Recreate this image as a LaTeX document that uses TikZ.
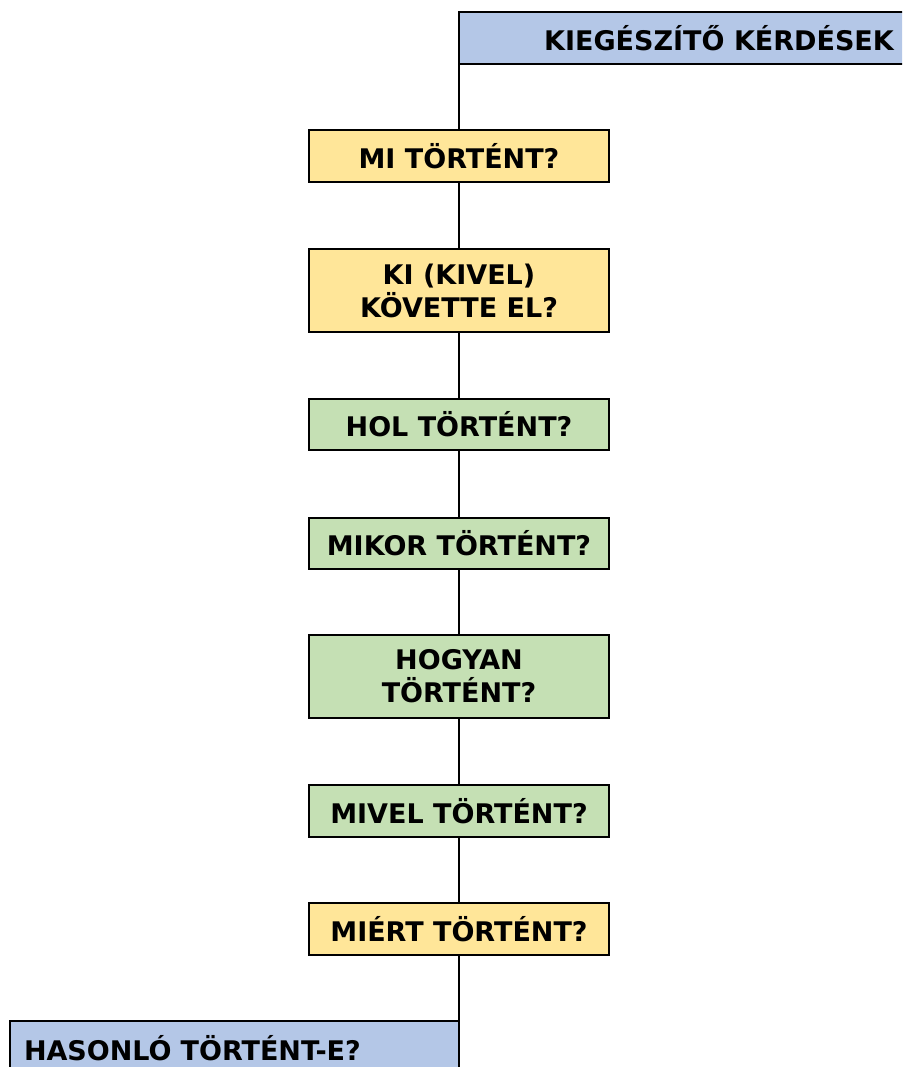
\documentclass[tikz,border=0pt]{standalone}
\usepackage{fontspec}
\setmainfont{DejaVu Sans}
\definecolor{hdrblue}{HTML}{B4C7E7}
\definecolor{qyellow}{HTML}{FFE699}
\definecolor{qgreen}{HTML}{C5E0B4}
\tikzset{
  qbox/.style={draw=black, line width=2.6pt, minimum width=300pt, minimum height=52pt,
    inner sep=0pt, outer sep=0pt, align=center, font=\fontsize{27}{33}\selectfont\bfseries},
  hdrbox/.style={draw=black, line width=2.6pt, fill=hdrblue, inner sep=0pt, outer sep=0pt,
    font=\fontsize{27}{33}\selectfont\bfseries},
  conn/.style={draw=black, line width=2.6pt}
}
\begin{document}
\begin{tikzpicture}[x=1pt,y=-1pt]
\useasboundingbox (0,0) rectangle (902,1067);
\clip (0,0) rectangle (902,1067);
\node[hdrbox, minimum width=520pt, minimum height=52pt] (top) at (719,38) {KIEGÉSZÍTŐ KÉRDÉSEK};
\node[qbox, fill=qyellow] (mi) at (459,156) {MI TÖRTÉNT?};
\node[qbox, fill=qyellow, minimum height=83pt] (ki) at (459,290.5) {KI (KIVEL)\\KÖVETTE EL?};
\node[qbox, fill=qgreen, minimum height=51pt] (hol) at (459,424.5) {HOL TÖRTÉNT?};
\node[qbox, fill=qgreen, minimum height=51pt] (mikor) at (459,543.5) {MIKOR TÖRTÉNT?};
\node[qbox, fill=qgreen, minimum height=83pt] (hogyan) at (459,676.5) {HOGYAN\\TÖRTÉNT?};
\node[qbox, fill=qgreen] (mivel) at (459,811) {MIVEL TÖRTÉNT?};
\node[qbox, fill=qyellow] (miert) at (459,929) {MIÉRT TÖRTÉNT?};
\node[hdrbox, anchor=west, minimum height=54pt, text width=421pt, inner xsep=14pt, align=left] (bottom) at (10,1048) {HASONLÓ TÖRTÉNT-E?};
\draw[conn] (top.south west) -- (top.south west |- mi.north);
\draw[conn] (mi) -- (ki);
\draw[conn] (ki) -- (hol);
\draw[conn] (hol) -- (mikor);
\draw[conn] (mikor) -- (hogyan);
\draw[conn] (hogyan) -- (mivel);
\draw[conn] (mivel) -- (miert);
\draw[conn] (bottom.north east |- miert.south) -- (bottom.north east);
\end{tikzpicture}
\end{document}
